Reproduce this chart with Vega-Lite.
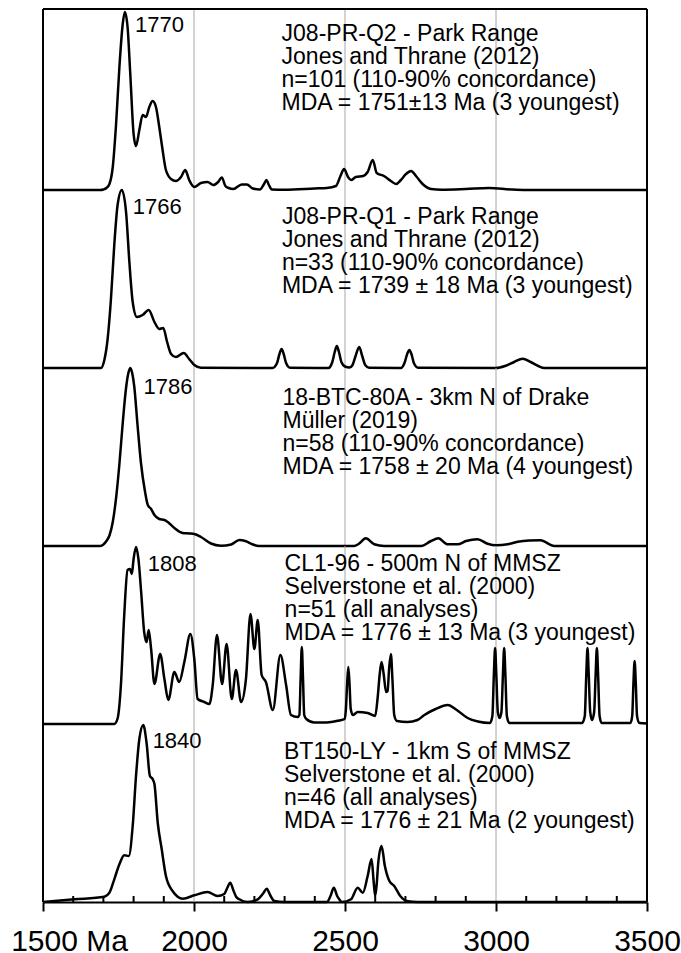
{
  "$schema": "https://vega.github.io/schema/vega-lite/v6.json",
  "padding": {"left": 10, "top": 6, "right": 2, "bottom": 0},
  "spacing": 0,
  "bounds": "flush",
  "config": {"view": {"stroke": null}, "font": "Liberation Sans", "concat": {"spacing": 0}},
  "datasets": {
    "vlines": [{"age":1500,"edge":true},{"age":2000,"edge":false},{"age":2500,"edge":false},{"age":3000,"edge":false},{"age":3500,"edge":true}],
    "minor": [{"age":1600},{"age":1700},{"age":1800},{"age":1900},{"age":2100},{"age":2200},{"age":2300},{"age":2400},{"age":2600},{"age":2700},{"age":2800},{"age":2900},{"age":3100},{"age":3200},{"age":3300},{"age":3400}],
    "p1": [
      {"age":1500,"p":0},{"age":1690,"p":0},{"age":1700,"p":0.5},{"age":1710,"p":2},{"age":1720,"p":6},{"age":1731,"p":23},{"age":1742,"p":66},{"age":1753,"p":123},{"age":1764,"p":166},{"age":1771,"p":178},{"age":1780,"p":163},{"age":1789,"p":116},{"age":1800,"p":56},{"age":1808,"p":44},{"age":1819,"p":60},{"age":1830,"p":75},{"age":1841,"p":73},{"age":1852,"p":83},{"age":1863,"p":89},{"age":1874,"p":83},{"age":1885,"p":63},{"age":1896,"p":40},{"age":1907,"p":20},{"age":1924,"p":11},{"age":1940,"p":9},{"age":1957,"p":13},{"age":1971,"p":20},{"age":1984,"p":10},{"age":2001,"p":3},{"age":2023,"p":7},{"age":2045,"p":8},{"age":2064,"p":5},{"age":2080,"p":8},{"age":2092,"p":12.5},{"age":2104,"p":4},{"age":2115,"p":2},{"age":2130,"p":1},{"age":2158,"p":5.5},{"age":2175,"p":5.5},{"age":2195,"p":1.5},{"age":2218,"p":0.5},{"age":2232,"p":6},{"age":2240,"p":10},{"age":2248,"p":5},{"age":2258,"p":0.5},{"age":2300,"p":0.3},{"age":2400,"p":1.5},{"age":2440,"p":2},{"age":2470,"p":4},{"age":2485,"p":14},{"age":2497,"p":21},{"age":2510,"p":13},{"age":2520,"p":10},{"age":2536,"p":13},{"age":2560,"p":14},{"age":2575,"p":18},{"age":2592,"p":30},{"age":2605,"p":17},{"age":2629,"p":14},{"age":2652,"p":9},{"age":2669,"p":6},{"age":2685,"p":10},{"age":2702,"p":16},{"age":2719,"p":19},{"age":2735,"p":14},{"age":2757,"p":6},{"age":2785,"p":1},{"age":2820,"p":0.3},{"age":2900,"p":1},{"age":2977,"p":2},{"age":3050,"p":0.5},{"age":3100,"p":0},{"age":3500,"p":0}
    ],
    "p2": [
      {"age":1500,"p":0},{"age":1692,"p":0},{"age":1703,"p":7.7},{"age":1714,"p":29},{"age":1725,"p":69},{"age":1736,"p":123},{"age":1747,"p":163},{"age":1761,"p":178},{"age":1775,"p":156},{"age":1786,"p":106},{"age":1797,"p":66},{"age":1811,"p":51},{"age":1830,"p":53},{"age":1850,"p":58},{"age":1869,"p":46},{"age":1885,"p":39},{"age":1898,"p":40},{"age":1911,"p":26},{"age":1924,"p":14},{"age":1940,"p":11},{"age":1966,"p":15},{"age":1984,"p":9},{"age":2001,"p":3},{"age":2023,"p":0.3},{"age":2260,"p":0},{"age":2275,"p":5},{"age":2283,"p":14},{"age":2290,"p":19},{"age":2297,"p":14},{"age":2305,"p":5},{"age":2318,"p":0.3},{"age":2445,"p":0},{"age":2458,"p":6},{"age":2466,"p":16},{"age":2473,"p":22},{"age":2480,"p":16},{"age":2488,"p":6},{"age":2500,"p":1.5},{"age":2515,"p":0.5},{"age":2525,"p":3},{"age":2535,"p":12},{"age":2547,"p":21},{"age":2557,"p":12},{"age":2567,"p":3},{"age":2580,"p":0.3},{"age":2685,"p":0},{"age":2697,"p":5},{"age":2706,"p":14},{"age":2713,"p":18},{"age":2720,"p":14},{"age":2728,"p":5},{"age":2742,"p":0.3},{"age":3000,"p":0},{"age":3030,"p":2},{"age":3060,"p":6},{"age":3088,"p":9.3},{"age":3115,"p":6},{"age":3140,"p":2},{"age":3160,"p":0},{"age":3500,"p":0}
    ],
    "p3": [
      {"age":1500,"p":0},{"age":1690,"p":0},{"age":1700,"p":1.5},{"age":1710,"p":5},{"age":1720,"p":10.5},{"age":1731,"p":24},{"age":1742,"p":48},{"age":1753,"p":82},{"age":1764,"p":123},{"age":1775,"p":158},{"age":1782,"p":172},{"age":1789,"p":178},{"age":1796,"p":172},{"age":1802,"p":160},{"age":1813,"p":121},{"age":1824,"p":84},{"age":1838,"p":54},{"age":1847,"p":41},{"age":1858,"p":37},{"age":1869,"p":31},{"age":1885,"p":27},{"age":1902,"p":26},{"age":1913,"p":24},{"age":1935,"p":18},{"age":1962,"p":13},{"age":1985,"p":12.5},{"age":2001,"p":12},{"age":2023,"p":9},{"age":2056,"p":2.5},{"age":2089,"p":0.3},{"age":2123,"p":1.5},{"age":2150,"p":6},{"age":2170,"p":5},{"age":2195,"p":1.5},{"age":2215,"p":0},{"age":2530,"p":0},{"age":2545,"p":2},{"age":2569,"p":7.7},{"age":2597,"p":1.7},{"age":2630,"p":0},{"age":2752,"p":0},{"age":2785,"p":5},{"age":2809,"p":7.7},{"age":2840,"p":1.7},{"age":2873,"p":1.7},{"age":2901,"p":5},{"age":2939,"p":6.7},{"age":2972,"p":2.3},{"age":3000,"p":0.7},{"age":3039,"p":1.7},{"age":3072,"p":4.3},{"age":3110,"p":5.5},{"age":3147,"p":5.7},{"age":3193,"p":0},{"age":3500,"p":0}
    ],
    "p4": [
      {"age":1500,"p":0},{"age":1736,"p":0},{"age":1747,"p":5.5},{"age":1758,"p":39},{"age":1769,"p":109},{"age":1780,"p":154},{"age":1788,"p":155},{"age":1794,"p":150},{"age":1800,"p":165},{"age":1808,"p":177},{"age":1816,"p":165},{"age":1825,"p":132},{"age":1835,"p":92},{"age":1843,"p":82},{"age":1850,"p":94},{"age":1858,"p":75},{"age":1869,"p":40},{"age":1888,"p":70},{"age":1902,"p":45},{"age":1915,"p":24},{"age":1935,"p":52},{"age":1951,"p":42},{"age":1968,"p":62},{"age":1988,"p":90},{"age":2001,"p":65},{"age":2012,"p":25},{"age":2034,"p":22},{"age":2051,"p":20},{"age":2062,"p":39},{"age":2076,"p":89},{"age":2093,"p":40},{"age":2108,"p":80},{"age":2125,"p":25},{"age":2139,"p":54},{"age":2156,"p":22},{"age":2172,"p":45},{"age":2187,"p":110},{"age":2200,"p":75},{"age":2211,"p":104},{"age":2224,"p":49},{"age":2238,"p":42},{"age":2261,"p":14},{"age":2286,"p":69},{"age":2305,"p":39},{"age":2321,"p":9},{"age":2343,"p":7},{"age":2349,"p":9},{"age":2353,"p":45},{"age":2357,"p":77},{"age":2361,"p":45},{"age":2365,"p":9},{"age":2372,"p":5},{"age":2398,"p":1.5},{"age":2440,"p":1.5},{"age":2480,"p":3.5},{"age":2499,"p":5},{"age":2503,"p":15},{"age":2507,"p":40},{"age":2511,"p":57},{"age":2515,"p":40},{"age":2519,"p":15},{"age":2526,"p":9},{"age":2542,"p":12},{"age":2575,"p":11},{"age":2600,"p":8},{"age":2608,"p":26},{"age":2615,"p":50},{"age":2621,"p":62},{"age":2628,"p":50},{"age":2636,"p":32},{"age":2641,"p":33},{"age":2646,"p":55},{"age":2652,"p":70},{"age":2657,"p":45},{"age":2663,"p":9},{"age":2672,"p":3},{"age":2707,"p":2},{"age":2740,"p":4},{"age":2763,"p":9},{"age":2800,"p":15},{"age":2840,"p":19},{"age":2870,"p":14},{"age":2906,"p":6},{"age":2940,"p":2.5},{"age":2980,"p":1},{"age":2988,"p":8},{"age":2993,"p":50},{"age":2997,"p":76},{"age":3001,"p":50},{"age":3006,"p":12},{"age":3012,"p":6},{"age":3018,"p":12},{"age":3023,"p":50},{"age":3027,"p":76},{"age":3031,"p":50},{"age":3036,"p":8},{"age":3044,"p":1},{"age":3285,"p":1},{"age":3294,"p":8},{"age":3299,"p":50},{"age":3303,"p":76},{"age":3307,"p":50},{"age":3312,"p":12},{"age":3318,"p":4},{"age":3325,"p":12},{"age":3330,"p":50},{"age":3334,"p":76},{"age":3338,"p":50},{"age":3343,"p":8},{"age":3350,"p":1},{"age":3445,"p":1},{"age":3451,"p":8},{"age":3455,"p":40},{"age":3459,"p":63},{"age":3463,"p":40},{"age":3467,"p":8},{"age":3475,"p":1},{"age":3500,"p":0.5}
    ],
    "p5": [
      {"age":1500,"p":0},{"age":1604,"p":2.7},{"age":1703,"p":5.3},{"age":1720,"p":9.3},{"age":1736,"p":22.7},{"age":1753,"p":37.7},{"age":1769,"p":46.7},{"age":1784,"p":46},{"age":1797,"p":76},{"age":1808,"p":126},{"age":1819,"p":163},{"age":1832,"p":177},{"age":1843,"p":159},{"age":1854,"p":126},{"age":1863,"p":123},{"age":1869,"p":118},{"age":1880,"p":79},{"age":1893,"p":53},{"age":1907,"p":26},{"age":1929,"p":11},{"age":1963,"p":3.3},{"age":2001,"p":6.7},{"age":2045,"p":10},{"age":2078,"p":6},{"age":2100,"p":8},{"age":2110,"p":14},{"age":2120,"p":19.3},{"age":2130,"p":12},{"age":2140,"p":5},{"age":2150,"p":2.7},{"age":2178,"p":0},{"age":2211,"p":2.7},{"age":2230,"p":9},{"age":2241,"p":13.3},{"age":2252,"p":7},{"age":2266,"p":1},{"age":2300,"p":0},{"age":2440,"p":0},{"age":2452,"p":6},{"age":2463,"p":14.3},{"age":2474,"p":6},{"age":2481,"p":2.7},{"age":2490,"p":0},{"age":2520,"p":2.7},{"age":2542,"p":14.3},{"age":2559,"p":9.3},{"age":2575,"p":26},{"age":2588,"p":43},{"age":2595,"p":20},{"age":2600,"p":6},{"age":2605,"p":18},{"age":2610,"p":39},{"age":2621,"p":56},{"age":2632,"p":36},{"age":2647,"p":21},{"age":2663,"p":16},{"age":2683,"p":6},{"age":2708,"p":0.7},{"age":2740,"p":0},{"age":3500,"p":0}
    ],
    "labels": [
      {"panel":1,"kind":"info","age":2290,"p":149.3,"text":"J08-PR-Q2 - Park Range\nJones and Thrane (2012)\nn=101 (110-90% concordance)\nMDA = 1751±13 Ma (3 youngest)"},
      {"panel":1,"kind":"peak","age":1805,"p":158,"text":"1770"},
      {"panel":2,"kind":"info","age":2291,"p":144,"text":"J08-PR-Q1 - Park Range\nJones and Thrane (2012)\nn=33 (110-90% concordance)\nMDA = 1739 ± 18 Ma (3 youngest)"},
      {"panel":2,"kind":"peak","age":1797,"p":154,"text":"1766"},
      {"panel":3,"kind":"info","age":2293,"p":141.3,"text":"18-BTC-80A - 3km N of Drake\nMüller (2019)\nn=58 (110-90% concordance)\nMDA = 1758 ± 20 Ma (4 youngest)"},
      {"panel":3,"kind":"peak","age":1833,"p":152,"text":"1786"},
      {"panel":4,"kind":"info","age":2300,"p":152.8,"text":"CL1-96 - 500m N of MMSZ\nSelverstone et al. (2000)\nn=51 (all analyses)\nMDA = 1776 ± 13 Ma (3 youngest)"},
      {"panel":4,"kind":"peak","age":1847,"p":153,"text":"1808"},
      {"panel":5,"kind":"info","age":2298,"p":143.4,"text":"BT150-LY - 1km S of MMSZ\nSelverstone et al. (2000)\nn=46 (all analyses)\nMDA = 1776 ± 21 Ma (2 youngest)"},
      {"panel":5,"kind":"peak","age":1863,"p":154,"text":"1840"}
    ]
  },
  "vconcat": [
    {
      "width": 604, "height": 181,
      "encoding": {"x": {"field": "age", "type": "quantitative", "scale": {"domain": [1500, 3500], "nice": false, "zero": false}, "axis": null}},
      "layer": [
        {"data": {"name": "vlines"}, "transform": [{"filter": "!datum.edge"}], "mark": {"type": "rule", "color": "#a6a6a6", "strokeWidth": 1}, "encoding": {}},
        {"data": {"name": "vlines"}, "transform": [{"filter": "datum.edge"}], "mark": {"type": "rule", "color": "black", "strokeWidth": 2}, "encoding": {}},
        {"data": {"name": "vlines"}, "transform": [{"filter": "datum.age === 1500"}], "mark": {"type": "rule", "color": "black", "strokeWidth": 2},
         "encoding": {"x2": {"datum": 3500}, "y": {"datum": 181, "type": "quantitative", "scale": {"domain": [0, 181], "nice": false}, "axis": null}}},
        {"data": {"name": "p1"}, "mark": {"type": "line", "interpolate": "monotone", "color": "black", "strokeWidth": 2.5},
         "encoding": {"y": {"field": "p", "type": "quantitative", "scale": {"domain": [0, 181], "nice": false}, "axis": null}}},
        {"data": {"name": "labels"}, "transform": [{"filter": "datum.panel === 1 && datum.kind === 'info'"}],
         "mark": {"type": "text", "align": "left", "baseline": "alphabetic", "fontSize": 23, "lineHeight": 23, "lineBreak": "\n", "color": "black"},
         "encoding": {"y": {"field": "p", "type": "quantitative", "axis": null}, "text": {"field": "text"}}},
        {"data": {"name": "labels"}, "transform": [{"filter": "datum.panel === 1 && datum.kind === 'peak'"}],
         "mark": {"type": "text", "align": "left", "baseline": "alphabetic", "fontSize": 22, "color": "black"},
         "encoding": {"y": {"field": "p", "type": "quantitative", "axis": null}, "text": {"field": "text"}}}
      ]
    },
    {
      "width": 604, "height": 178,
      "encoding": {"x": {"field": "age", "type": "quantitative", "scale": {"domain": [1500, 3500], "nice": false, "zero": false}, "axis": null}},
      "layer": [
        {"data": {"name": "vlines"}, "transform": [{"filter": "!datum.edge"}], "mark": {"type": "rule", "color": "#a6a6a6", "strokeWidth": 1}, "encoding": {}},
        {"data": {"name": "vlines"}, "transform": [{"filter": "datum.edge"}], "mark": {"type": "rule", "color": "black", "strokeWidth": 2}, "encoding": {}},
        {"data": {"name": "p2"}, "mark": {"type": "line", "interpolate": "monotone", "color": "black", "strokeWidth": 2.5},
         "encoding": {"y": {"field": "p", "type": "quantitative", "scale": {"domain": [0, 178], "nice": false}, "axis": null}}},
        {"data": {"name": "labels"}, "transform": [{"filter": "datum.panel === 2 && datum.kind === 'info'"}],
         "mark": {"type": "text", "align": "left", "baseline": "alphabetic", "fontSize": 23, "lineHeight": 23, "lineBreak": "\n", "color": "black"},
         "encoding": {"y": {"field": "p", "type": "quantitative", "axis": null}, "text": {"field": "text"}}},
        {"data": {"name": "labels"}, "transform": [{"filter": "datum.panel === 2 && datum.kind === 'peak'"}],
         "mark": {"type": "text", "align": "left", "baseline": "alphabetic", "fontSize": 22, "color": "black"},
         "encoding": {"y": {"field": "p", "type": "quantitative", "axis": null}, "text": {"field": "text"}}}
      ]
    },
    {
      "width": 604, "height": 178,
      "encoding": {"x": {"field": "age", "type": "quantitative", "scale": {"domain": [1500, 3500], "nice": false, "zero": false}, "axis": null}},
      "layer": [
        {"data": {"name": "vlines"}, "transform": [{"filter": "!datum.edge"}], "mark": {"type": "rule", "color": "#a6a6a6", "strokeWidth": 1}, "encoding": {}},
        {"data": {"name": "vlines"}, "transform": [{"filter": "datum.edge"}], "mark": {"type": "rule", "color": "black", "strokeWidth": 2}, "encoding": {}},
        {"data": {"name": "p3"}, "mark": {"type": "line", "interpolate": "monotone", "color": "black", "strokeWidth": 2.5},
         "encoding": {"y": {"field": "p", "type": "quantitative", "scale": {"domain": [0, 178], "nice": false}, "axis": null}}},
        {"data": {"name": "labels"}, "transform": [{"filter": "datum.panel === 3 && datum.kind === 'info'"}],
         "mark": {"type": "text", "align": "left", "baseline": "alphabetic", "fontSize": 23, "lineHeight": 23, "lineBreak": "\n", "color": "black"},
         "encoding": {"y": {"field": "p", "type": "quantitative", "axis": null}, "text": {"field": "text"}}},
        {"data": {"name": "labels"}, "transform": [{"filter": "datum.panel === 3 && datum.kind === 'peak'"}],
         "mark": {"type": "text", "align": "left", "baseline": "alphabetic", "fontSize": 22, "color": "black"},
         "encoding": {"y": {"field": "p", "type": "quantitative", "axis": null}, "text": {"field": "text"}}}
      ]
    },
    {
      "width": 604, "height": 178,
      "encoding": {"x": {"field": "age", "type": "quantitative", "scale": {"domain": [1500, 3500], "nice": false, "zero": false}, "axis": null}},
      "layer": [
        {"data": {"name": "vlines"}, "transform": [{"filter": "!datum.edge"}], "mark": {"type": "rule", "color": "#a6a6a6", "strokeWidth": 1}, "encoding": {}},
        {"data": {"name": "vlines"}, "transform": [{"filter": "datum.edge"}], "mark": {"type": "rule", "color": "black", "strokeWidth": 2}, "encoding": {}},
        {"data": {"name": "p4"}, "mark": {"type": "line", "interpolate": "monotone", "color": "black", "strokeWidth": 2.5},
         "encoding": {"y": {"field": "p", "type": "quantitative", "scale": {"domain": [0, 178], "nice": false}, "axis": null}}},
        {"data": {"name": "labels"}, "transform": [{"filter": "datum.panel === 4 && datum.kind === 'info'"}],
         "mark": {"type": "text", "align": "left", "baseline": "alphabetic", "fontSize": 23, "lineHeight": 23, "lineBreak": "\n", "color": "black"},
         "encoding": {"y": {"field": "p", "type": "quantitative", "axis": null}, "text": {"field": "text"}}},
        {"data": {"name": "labels"}, "transform": [{"filter": "datum.panel === 4 && datum.kind === 'peak'"}],
         "mark": {"type": "text", "align": "left", "baseline": "alphabetic", "fontSize": 22, "color": "black"},
         "encoding": {"y": {"field": "p", "type": "quantitative", "axis": null}, "text": {"field": "text"}}}
      ]
    },
    {
      "width": 604, "height": 178,
      "encoding": {"x": {"field": "age", "type": "quantitative", "scale": {"domain": [1500, 3500], "nice": false, "zero": false},
                 "axis": {"orient": "bottom", "values": [1500, 2000, 2500, 3000, 3500], "format": "d", "title": null, "labelFontSize": 30, "labelColor": "black", "labelFont": "Liberation Sans", "labelFlush": false, "labelOverlap": false, "labelPadding": 15,
                          "labelExpr": "datum.value === 1500 ? '1500 Ma' : datum.label",
                          "labelOffset": {"condition": {"test": "datum.value === 1500", "value": 26}, "value": 0},
                          "ticks": true, "tickSize": 9, "tickWidth": 2, "tickColor": "black",
                          "domain": true, "domainColor": "black", "domainWidth": 2, "grid": false}}},
      "layer": [
        {"data": {"name": "vlines"}, "transform": [{"filter": "!datum.edge"}], "mark": {"type": "rule", "color": "#a6a6a6", "strokeWidth": 1}, "encoding": {}},
        {"data": {"name": "vlines"}, "transform": [{"filter": "datum.edge"}], "mark": {"type": "rule", "color": "black", "strokeWidth": 2}, "encoding": {}},
        {"data": {"name": "minor"}, "mark": {"type": "rule", "color": "black", "strokeWidth": 2},
         "encoding": {"y": {"datum": 0, "type": "quantitative", "scale": {"domain": [0, 178], "nice": false}, "axis": null}, "y2": {"datum": 6}}},
        {"data": {"name": "p5"}, "mark": {"type": "line", "interpolate": "monotone", "color": "black", "strokeWidth": 2.5},
         "encoding": {"y": {"field": "p", "type": "quantitative", "scale": {"domain": [0, 178], "nice": false}, "axis": null}}},
        {"data": {"name": "labels"}, "transform": [{"filter": "datum.panel === 5 && datum.kind === 'info'"}],
         "mark": {"type": "text", "align": "left", "baseline": "alphabetic", "fontSize": 23, "lineHeight": 23, "lineBreak": "\n", "color": "black"},
         "encoding": {"y": {"field": "p", "type": "quantitative", "axis": null}, "text": {"field": "text"}}},
        {"data": {"name": "labels"}, "transform": [{"filter": "datum.panel === 5 && datum.kind === 'peak'"}],
         "mark": {"type": "text", "align": "left", "baseline": "alphabetic", "fontSize": 22, "color": "black"},
         "encoding": {"y": {"field": "p", "type": "quantitative", "axis": null}, "text": {"field": "text"}}}
      ]
    }
  ]
}
